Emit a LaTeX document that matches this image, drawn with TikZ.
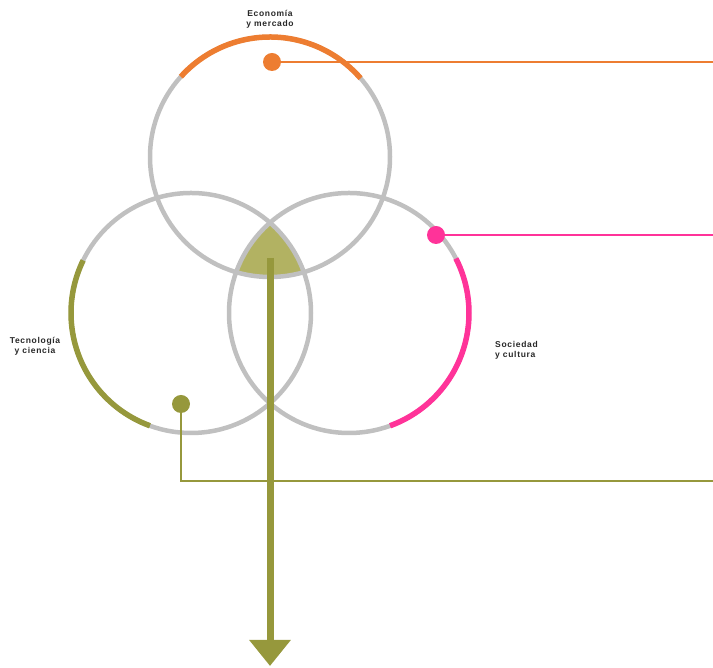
\documentclass[tikz,border=0pt]{standalone}
\usepackage{fontspec}
\setmainfont{Liberation Sans}
\usetikzlibrary{arrows.meta, positioning, calc}
\definecolor{ringgray}{RGB}{192,192,192}
\definecolor{econorange}{RGB}{237,125,49}
\definecolor{socpink}{RGB}{255,51,153}
\definecolor{techolive}{RGB}{150,152,60}
\definecolor{corefill}{RGB}{178,178,98}
\definecolor{labelgray}{RGB}{40,40,40}

\begin{document}
\begin{tikzpicture}[
    x=1pt, y=1pt,
    ring/.style={draw=ringgray, line width=4.5pt},
    seg/.style={line width=5.5pt},
    dot/.style={circle, inner sep=0pt, minimum size=18pt},
    lead/.style={line width=1.8pt},
    flow/.style={-{Triangle[length=26pt, width=40pt]}, line width=7pt, draw=techolive},
    lbl/.style={font=\fontsize{8.5}{10}\selectfont\bfseries\addfontfeatures{LetterSpace=8}, text=labelgray, inner sep=0pt}
]
    \useasboundingbox (0,0) rectangle (713,668);

    \coordinate (ctop) at (270,511);
    \coordinate (cleft) at (191,355);
    \coordinate (cright) at (349,355);

    % shared core of the three circles
    \begin{scope}
        \clip (ctop) circle (120);
        \clip (cleft) circle (120);
        \fill[corefill] (cright) circle (120);
    \end{scope}

    \draw[ring] (ctop) circle (120);
    \draw[ring] (cleft) circle (120);
    \draw[ring] (cright) circle (120);

    \draw[seg, econorange] ($(ctop)+(41:120)$) arc (41:138:120);
    \draw[seg, socpink] ($(cright)+(-70:120)$) arc (-70:27:120);
    \draw[seg, techolive] ($(cleft)+(154:120)$) arc (154:250:120);

    \coordinate (core) at (270,410);
    \coordinate (tip) at (270,2);
    \draw[flow] (core) -- (tip);

    \node (econdot) [dot, fill=econorange] at (272,606) {};
    \node (socdot) [dot, fill=socpink] at (436,433) {};
    \node (techdot) [dot, fill=techolive] at (181,264) {};
    \coordinate (econend) at (713,606);
    \coordinate (socend) at (713,433);
    \coordinate (techend) at (713,187);

    \draw[lead, econorange] (econdot) -- (econend);
    \draw[lead, socpink] (socdot) -- (socend);
    \draw[lead, techolive] (techdot) |- (techend);

    \node (econ) [lbl, align=center] at (270,649) {Economía\\y mercado};
    \node (tech) [lbl, align=center] at (35,322) {Tecnología\\y ciencia};
    \node (soc) [lbl, align=left, anchor=west] at (495,318) {Sociedad\\y cultura};
\end{tikzpicture}
\end{document}
